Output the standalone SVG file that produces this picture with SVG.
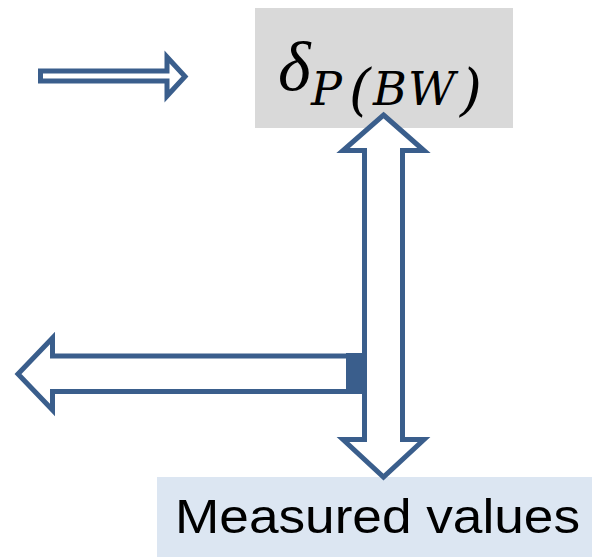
<svg xmlns="http://www.w3.org/2000/svg" width="592" height="557" viewBox="0 0 592 557">
  <style>
    .arrow { fill: #ffffff; stroke: #3a5e8c; stroke-width: 5; stroke-linejoin: miter; }
    .math { font-family: "DejaVu Serif", serif; font-style: italic; fill: #000000; }
    .label { font-family: "Liberation Sans", Arial, sans-serif; fill: #000000; }
  </style>
  <rect width="592" height="557" fill="#ffffff"/>
  <g id="node-delta">
    <rect x="255" y="8" width="258" height="120" fill="#d9d9d9"/>
    <text x="278" y="90" font-size="70" font-family="Liberation Serif, serif" font-style="italic">δ</text>
    <text class="math" font-size="46"><tspan x="311" y="105">P</tspan><tspan x="349" y="109" font-size="56">(</tspan><tspan x="373" y="105">B</tspan><tspan x="408" y="105">W</tspan><tspan x="460" y="109" font-size="56">)</tspan></text>
  </g>
  <g id="node-measured">
    <rect x="157" y="477" width="435" height="80" fill="#dce6f2"/>
    <text class="label" x="175" y="533" font-size="48" textLength="405" lengthAdjust="spacingAndGlyphs">Measured values</text>
  </g>
  <g id="connectors">
    <polygon class="arrow" points="40.5,71 167,71 167,57 185,76.5 167,96 167,81 40.5,81"/>
    <polygon class="arrow" points="18,374 52.5,338 52.5,356 354,356 354,391.5 52.5,391.5 52.5,410"/>
    <rect x="346" y="353" width="17" height="41" fill="#3a5e8c"/>
    <polygon class="arrow" points="383.5,115 424,150.5 402.5,150.5 402.5,439.5 424,439.5 383.5,477 343,439.5 364.5,439.5 364.5,150.5 343,150.5"/>
  </g>
</svg>
